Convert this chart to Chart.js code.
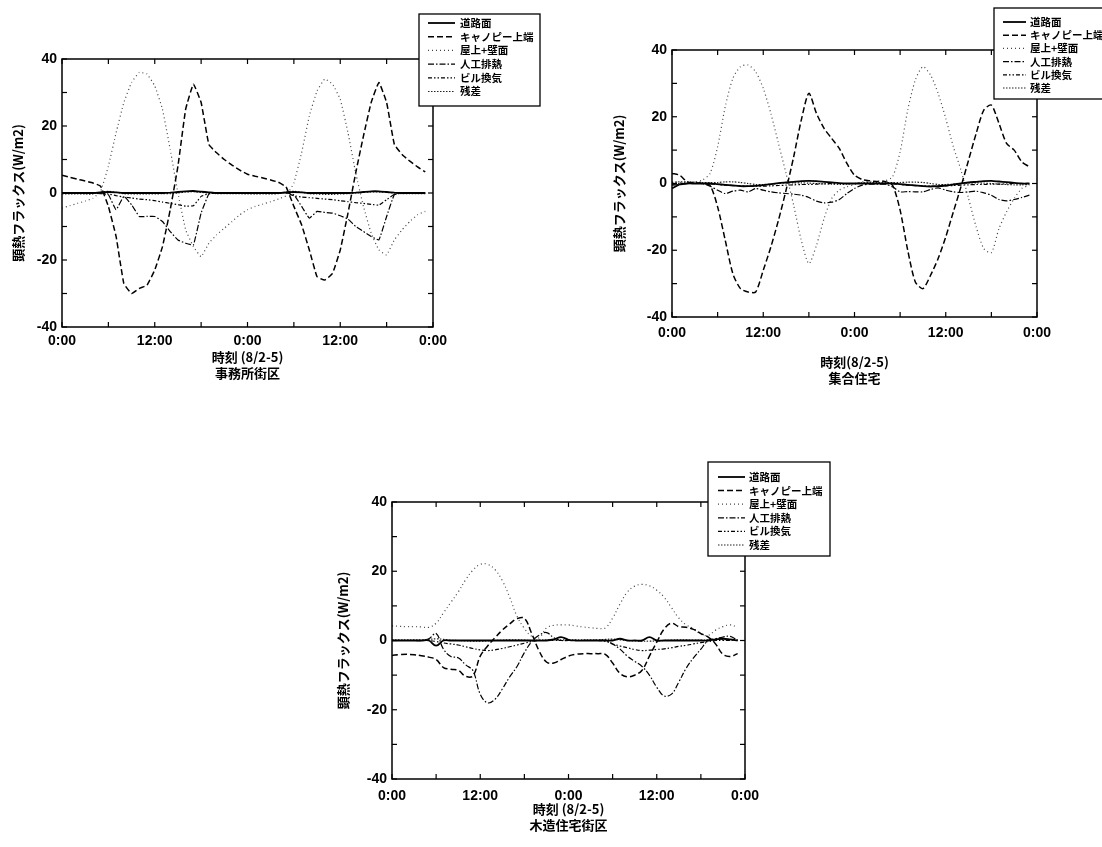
<!DOCTYPE html>
<html><head><meta charset="utf-8">
<script src="https://cdn.jsdelivr.net/npm/chart.js@4.4.1/dist/chart.umd.min.js"></script>
<style>
html,body{margin:0;padding:0;background:#fff;}
body{width:1102px;height:847px;position:relative;overflow:hidden;}
canvas{position:absolute;}
</style></head><body>
<canvas id="c1" width="560" height="390" style="left:0;top:0"></canvas>
<canvas id="c2" width="502" height="390" style="left:600px;top:0"></canvas>
<canvas id="c3" width="560" height="397" style="left:320px;top:450px"></canvas>
<script>
// ---------- data ----------
const hours = [0,1,2,3,4,5,6,7,8,9,10,11,12,13,14,15,16,17,18,19,20,21,22,23,24,25,26,27,28,29,30,31,32,33,34,35,36,37,38,39,40,41,42,43,44,45,46,47];
const seriesNames = ['道路面','キャノピー上端','屋上+壁面','人工排熱','ビル換気','残差'];
const xTickLabels = {0:'0:00',12:'12:00',24:'0:00',36:'12:00',48:'0:00'};
const yAxisTitle = '顕熱フラックス(W/m2)';

// 事務所街区
const office_road   = [0,0,0,0,0,0.2,0.3,0.2,0,0,0,0,0,0,0.1,0.3,0.5,0.6,0.4,0.2,0,0,0,0,0,0,0,0,0,0.2,0.3,0.2,0,0,0,0,0,0,0.1,0.3,0.5,0.5,0.3,0.1,0,0,0,0];
const office_canopy = [5.3,4.7,4.1,3.6,3.0,2.0,-4,-13,-27,-30,-28.5,-27.5,-23,-16,-5,8,25,32.5,27,14.5,12,10,8.3,6.8,5.6,5.0,4.5,3.9,3.2,1.8,-4,-9.5,-17,-25,-26,-24,-17,-6,6,17,27,33,27,14.5,11.5,9.5,7.8,6.3];
const office_roof   = [-4.5,-3.8,-3.1,-2.4,-1.6,0.5,8,18,27,33,36,35.5,32,25,13,0,-11,-16,-19,-15,-12.5,-10.5,-8.5,-6.5,-5,-4,-3.3,-2.6,-1.8,-0.8,3,12,23,30.5,34,32.5,28,18,6,-4,-12,-17,-18.5,-14,-11,-8.5,-6.5,-5.5];
const office_ah     = [0,0,0,0,0,-0.2,-0.5,-5,-1,-3.5,-7,-7,-7,-8.5,-11.5,-14,-15,-15.5,-6,-0.3,0,0,0,0,0,0,0,0,0,0,-0.5,-4,-7.5,-5.5,-5.8,-6,-6.8,-7.8,-10,-11.5,-13,-14,-7,-0.5,0,0,0,0];
const office_vent   = [0,0,0,0,0,0,-0.3,-0.8,-1.2,-1.5,-1.8,-2,-2.3,-2.7,-3.1,-3.5,-3.9,-3.8,-1,-0.2,0,0,0,0,0,0,0,0,0,0,-0.8,-1.2,-1.4,-1.6,-1.8,-2,-2.3,-2.6,-2.9,-3.1,-3.4,-3.6,-2,-0.4,0,0,0,0];
const office_resid  = [-0.3,-0.3,-0.3,-0.3,-0.3,0.3,0.5,0.2,-0.2,-0.3,-0.3,-0.3,-0.3,-0.2,-0.2,0,0.3,0.4,0.2,0,-0.2,-0.2,-0.2,-0.2,-0.3,-0.3,-0.3,-0.3,-0.2,0.3,0.5,0.2,-0.2,-0.3,-0.4,-0.4,-0.3,-0.2,0,0.2,0.3,0.3,0.2,0,-0.2,-0.2,-0.2,-0.2];

// 集合住宅
const apt_road   = [-1.5,-0.3,0,0,0,0,-0.2,-0.4,-0.6,-0.8,-0.8,-0.7,-0.5,-0.2,0.1,0.3,0.5,0.7,0.8,0.7,0.5,0.3,0.1,0,0,0,0,0,0,0,-0.2,-0.4,-0.6,-0.8,-0.9,-0.8,-0.6,-0.3,0,0.3,0.5,0.7,0.8,0.6,0.4,0.2,0,0];
const apt_canopy = [3,2.5,0.5,0.2,0,-0.5,-7,-17,-27,-31.5,-32.5,-32.5,-26,-19,-11,-2,8,19,27,21,16.5,13.5,10.5,6,2.5,1.2,0.8,0.6,0.6,-0.5,-8,-20,-29.5,-31.5,-27.5,-22.5,-16,-8.5,-1,7,15,22,23.5,18,12,10,6.5,5];
const apt_roof   = [0.5,0.3,0.3,0.5,1,3,11,23,31.5,35,35.5,33.5,28.5,21,12,3,-6.5,-17,-24,-18.5,-10.5,-4.5,-2,-1,-0.3,0.5,0.6,0.7,0.8,2,9.5,22,31,35,32.5,27,19.5,11,4,-4.5,-13,-19.5,-20.7,-13.5,-8.5,-4.5,-1.5,-0.5];
const apt_ah     = [-0.5,-0.3,0,0,0,-0.8,-2,-3,-2.3,-2,-2.5,-1.5,-2,-2.5,-2.8,-3,-3.2,-3.5,-4.2,-5.3,-5.8,-5.6,-4.8,-3,-1.5,-0.5,-0.2,-0.2,-0.2,-1,-2.5,-2.4,-2.5,-2.5,-1.8,-1.3,-2,-2.5,-2.7,-2.5,-2.3,-2.8,-3.5,-4.8,-5.2,-4.8,-4.2,-3.5];
const apt_vent   = [-0.3,0,0,0,0,0,-0.3,-0.5,-0.6,-0.7,-0.8,-0.8,-0.8,-0.7,-0.6,-0.5,-0.4,-0.3,-0.3,-0.2,-0.1,0,0,0,0,0,0,0,0,0,-0.3,-0.5,-0.6,-0.7,-0.8,-0.8,-0.7,-0.6,-0.5,-0.4,-0.3,-0.3,-0.2,-0.2,-0.1,0,0,0];
const apt_resid  = [0.3,0.5,0.5,0.4,0.3,0.3,0.3,0.5,0.5,0.3,0,-0.3,-0.3,-0.2,0,0.2,0.2,0.2,0.1,0,-0.1,-0.2,-0.3,-0.2,0,0.2,0.3,0.3,0.3,0.3,0.3,0.4,0.4,0.3,0,-0.3,-0.3,-0.2,0,0.2,0.2,0.1,0,-0.2,-0.3,-0.4,-0.4,-0.3];

// 木造住宅街区
const wood_road   = [0,0,0,0,0,0,-1.5,0,0,0,0,0,0,0,0,0,0,0,0,0,0,0,0.3,1,0.2,0,0,0,0,0,0,0.5,0,0,0,1,0,0,0,0,0,0,0,0,0.3,0.5,0.3,0];
const wood_canopy = [-4.3,-4.1,-4,-4.1,-4.4,-4.8,-5.5,-7.8,-8.3,-8.6,-10.3,-10.2,-4.5,-1.6,0.8,3,4.8,6.3,6.4,2,-3,-6.2,-6.5,-5.5,-4.5,-4,-3.8,-3.8,-3.8,-4,-6.5,-9.5,-10.5,-10,-8.6,-4.5,-0.5,3.3,5,4,3.8,3.2,2,1,-1,-4,-4.6,-3.8];
const wood_roof   = [4.2,4.1,4,4,3.9,3.8,5,8,11,14,17.5,20.3,22,22,20.5,17.3,12.5,7,3.5,1.2,0.8,3.6,4.4,4.5,4.5,4.2,3.9,3.7,3.5,3.6,6.5,10.5,14,15.7,16.2,15.8,14.5,12.5,9.5,6.5,4.5,3.5,1.8,1.5,3,4,4.5,3.8];
const wood_ah     = [0,0,0,0,0,0.5,2,-2.5,-4.6,-5,-7,-8.7,-15.5,-18,-17,-14,-10.5,-7.5,-3.5,-0.3,1.5,2.3,0.8,0,0,0,0,0,0,0,-1,-2.5,-4.5,-6,-7.5,-10,-13.5,-16,-15.5,-12,-8,-5,-2.5,0,0.5,1,1.2,0];
const wood_vent   = [0,0,0,0,0,0,-0.3,-0.7,-1,-1.3,-1.8,-2.3,-2.7,-2.9,-2.7,-2.3,-1.8,-1.3,-0.8,-0.3,0,0,0,0,0,0,0,0,0,-0.2,-1,-1.6,-2.1,-2.6,-2.9,-2.8,-2.6,-2.4,-2.1,-1.7,-1.4,-1,-0.6,-0.3,0,0,0,0];
const wood_resid  = [0.2,0.2,0.2,0.2,0.2,0.3,0.5,0.3,0.1,0,-0.1,-0.2,-0.2,-0.1,0,0.1,0.2,0.2,0.1,0,0.1,0.2,0.2,0.2,0.2,0.2,0.2,0.2,0.2,0.3,0.4,0.2,0,-0.1,-0.2,-0.2,-0.1,0,0.1,0.2,0.2,0.1,0.1,0.2,0.3,0.3,0.2,0.2];

// ---------- styles ----------
const lineStyles = [
  {dash: [], width: 1.8, color: '#000'},
  {dash: [6,3], width: 1.5, color: '#000'},
  {dash: [1,3], width: 1.2, color: '#444'},
  {dash: [6,2,1.5,2], width: 1.2, color: '#000'},
  {dash: [4,2,1.5,2,1.5,2], width: 1.2, color: '#000'},
  {dash: [1.5,1.5], width: 1.2, color: '#222'}
];
const TICK_FONT = {family: '"Liberation Sans", Arial, sans-serif', size: 14, weight: 'bold'};
const JP = '"Noto Sans CJK JP", "Noto Sans", sans-serif';

const framePlugin = {
  id: 'frameAndLegend',
  afterDatasetsDraw(chart) {
    const {ctx, chartArea: a, scales: {x, y}} = chart;
    ctx.save();
    ctx.setLineDash([]);
    ctx.strokeStyle = '#000';
    ctx.lineWidth = 1.5;
    ctx.strokeRect(a.left, a.top, a.right - a.left, a.bottom - a.top);
    ctx.lineWidth = 1.2;
    const ln = (x1, y1, x2, y2) => { ctx.beginPath(); ctx.moveTo(x1, y1); ctx.lineTo(x2, y2); ctx.stroke(); };
    for (let v = y.min; v <= y.max; v += 10) {
      const py = y.getPixelForValue(v);
      ln(a.left, py, a.left + 5, py); ln(a.right, py, a.right - 5, py);
    }
    for (let h = x.min; h <= x.max; h += 6) {
      const px = x.getPixelForValue(h);
      ln(px, a.bottom, px, a.bottom - 5); ln(px, a.top, px, a.top + 5);
    }
    ctx.restore();
  },
  afterDraw(chart, args, opts) {
    const L = opts;
    if (!L || !L.box) return;
    const ctx = chart.ctx;
    ctx.save();
    ctx.fillStyle = '#fff';
    ctx.fillRect(L.box[0], L.box[1], L.box[2], L.box[3]);
    ctx.setLineDash([]);
    ctx.strokeStyle = '#000';
    ctx.lineWidth = 1.3;
    ctx.strokeRect(L.box[0], L.box[1], L.box[2], L.box[3]);
    ctx.font = 'bold ' + L.fontSize + 'px ' + JP;
    ctx.textBaseline = 'middle';
    ctx.fillStyle = '#000';
    chart.data.datasets.forEach((ds, i) => {
      const yy = L.rowY + i * L.rowStep;
      ctx.save();
      ctx.strokeStyle = ds.borderColor;
      ctx.lineWidth = ds.borderWidth;
      ctx.setLineDash(ds.borderDash || []);
      ctx.beginPath(); ctx.moveTo(L.sample[0], yy); ctx.lineTo(L.sample[1], yy); ctx.stroke();
      ctx.restore();
      ctx.fillText(ds.label, L.textX, yy);
    });
    ctx.restore();
  }
};

function makeChart(id, seriesList, subtitle, xTitleText, geom) {
  const datasets = seriesList.map((vals, i) => ({
    label: seriesNames[i],
    data: hours.map((h, k) => ({x: h, y: vals[k]})),
    borderColor: lineStyles[i].color,
    borderWidth: lineStyles[i].width,
    borderDash: lineStyles[i].dash,
    pointRadius: 0,
    fill: false,
    tension: geom.tension
  }));
  return new Chart(document.getElementById(id), {
    type: 'line',
    data: {datasets},
    plugins: [framePlugin],
    options: {
      responsive: false,
      animation: false,
      layout: {padding: geom.padding},
      plugins: {
        legend: {display: false},
        tooltip: {enabled: false},
        frameAndLegend: geom.legend
      },
      scales: {
        x: {
          type: 'linear', min: 0, max: 48,
          grid: {display: false, drawTicks: false}, border: {display: false},
          ticks: {stepSize: 12, autoSkip: false, maxRotation: 0, color: '#000', font: TICK_FONT, padding: geom.xTickPad,
                  callback: v => xTickLabels[v] !== undefined ? xTickLabels[v] : ''},
          title: {display: true, text: [xTitleText, subtitle], color: '#000',
                  font: {family: JP, size: 13, weight: 'bold', lineHeight: 1.25},
                  padding: {top: 0, bottom: geom.xTitlePad}},
          afterFit: s => { s.height = geom.xHeight; }
        },
        y: {
          min: -40, max: 40,
          grid: {display: false, drawTicks: false}, border: {display: false},
          ticks: {stepSize: 20, color: '#000', font: TICK_FONT, padding: 5},
          title: {display: true, text: yAxisTitle, color: '#000',
                  font: {family: JP, size: 13, weight: 'bold', lineHeight: 1.25},
                  padding: {top: geom.yTitlePad, bottom: 0}},
          afterFit: s => { s.width = geom.yWidth; }
        }
      }
    }
  });
}

makeChart('c1', [office_road, office_canopy, office_roof, office_ah, office_vent, office_resid], '事務所街区', '時刻 (8/2-5)', {
  padding: {left: 0, top: 59, right: 127, bottom: 0}, yWidth: 62, xHeight: 63, xTickPad: 6, xTitlePad: 9, yTitlePad: 10, tension: 0.1,
  legend: {box: [419, 14, 121, 92], rowY: 23, rowStep: 13.7, sample: [428, 455], textX: 460, fontSize: 10.5}
});
makeChart('c2', [apt_road, apt_canopy, apt_roof, apt_ah, apt_vent, apt_resid], '集合住宅', '時刻(8/2-5)', {
  padding: {left: 0, top: 50, right: 65, bottom: 0}, yWidth: 72, xHeight: 73, xTickPad: 8, xTitlePad: 4, yTitlePad: 11, tension: 0.25,
  legend: {box: [394, 8, 110, 91], rowY: 22, rowStep: 13.2, sample: [403, 426], textX: 430, fontSize: 10.5}
});
makeChart('c3', [wood_road, wood_canopy, wood_roof, wood_ah, wood_vent, wood_resid], '木造住宅街区', '時刻 (8/2-5)', {
  padding: {left: 0, top: 52, right: 135, bottom: 0}, yWidth: 72, xHeight: 68, xTickPad: 9, xTitlePad: 14, yTitlePad: 15, tension: 0.4,
  legend: {box: [388, 12, 122, 94], rowY: 27, rowStep: 13.6, sample: [398, 425], textX: 429, fontSize: 10.5}
});
</script>
</body></html>
